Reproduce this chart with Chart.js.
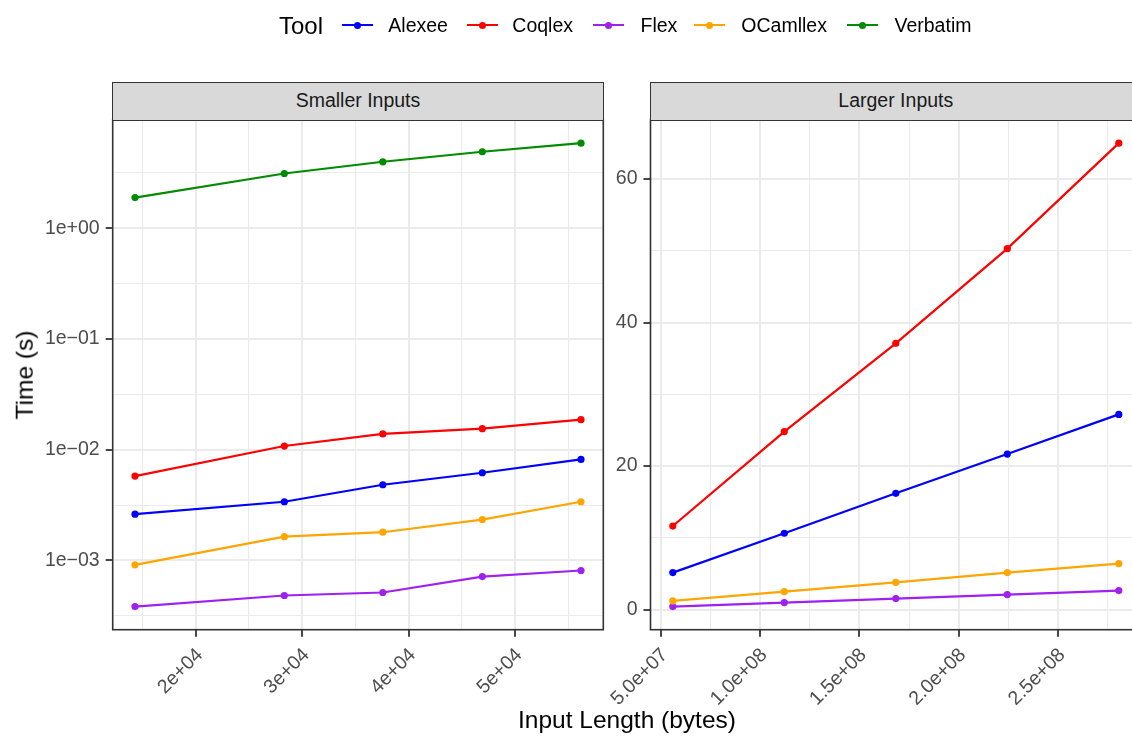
<!DOCTYPE html>
<html>
<head>
<meta charset="utf-8">
<title>Lexer running time by input length</title>
<script src="https://cdn.jsdelivr.net/npm/chart.js@4.4.1/dist/chart.umd.min.js"></script>
<style>
  html, body { margin: 0; padding: 0; background: #ffffff; }
  #stage {
    position: relative; width: 1132px; height: 736px; overflow: hidden;
    font-family: "Liberation Sans", Arial, Helvetica, sans-serif;
  }
  #stage canvas { position: absolute; top: 0; }
  .strip {
    position: absolute; top: 81.5px; height: 39.3px; width: 492.2px;
    box-sizing: border-box; background: #d9d9d9; border: 1.6px solid #333333;
    color: #1a1a1a; font-size: 19.5px; line-height: 1;
    display: flex; align-items: center; justify-content: center;
  }
  .legend-title { position: absolute; left: 279px; top: 13.5px; font-size: 24px; line-height: 1; color: #000; }
  .key { position: absolute; top: 24px; width: 31px; height: 2.2px; }
  .key i { position: absolute; left: 12px; top: -2.4px; width: 7px; height: 7px; border-radius: 50%; background: inherit; }
  .legend-label { position: absolute; top: 16.2px; font-size: 19.5px; line-height: 1; color: #000; white-space: nowrap; }
  .axis-title { position: absolute; font-size: 24.5px; line-height: 1; color: #000; white-space: nowrap; }
</style>
</head>
<body>
<div id="stage">
  <canvas id="smallPanel" width="620" height="736" style="left:0;width:620px;height:736px"></canvas>
  <canvas id="largePanel" width="590" height="736" style="left:560px;width:590px;height:736px"></canvas>

  <div class="strip" style="left:111.9px">Smaller Inputs</div>
  <div class="strip" style="left:649.7px">Larger Inputs</div>

  <div id="legend"></div>

  <div class="axis-title" style="left:24.5px;top:375px;transform:translate(-50%,-50%) rotate(-90deg)">Time (s)</div>
  <div class="axis-title" style="left:0;width:1254px;top:708px;text-align:center">Input Length (bytes)</div>
</div>

<script>
// ---- data ----------------------------------------------------------------
const tools = ['Alexee', 'Coqlex', 'Flex', 'OCamllex', 'Verbatim'];
const toolColors = ['#0000ff', '#ff0000', '#a020f0', '#ffa500', '#008b00'];

// Smaller inputs: size in bytes, time in seconds
const smallSizes    = [14288, 28315, 37566, 46910, 56180];
const smallAlexee   = [0.00262, 0.00339, 0.00483, 0.0062, 0.00817];
const smallCoqlex   = [0.00578, 0.0108, 0.0139, 0.0155, 0.0187];
const smallFlex     = [0.000384, 0.000483, 0.000514, 0.000716, 0.000812];
const smallOCamllex = [0.000914, 0.00164, 0.0018, 0.00234, 0.00339];
const smallVerbatim = [1.89, 3.12, 3.98, 4.9, 5.86];

// Larger inputs: size in bytes, time in seconds (no Verbatim runs)
const largeSizes    = [5.61e7, 1.122e8, 1.683e8, 2.244e8, 2.805e8];
const largeAlexee   = [5.15, 10.63, 16.2, 21.67, 27.2];
const largeCoqlex   = [11.64, 24.8, 37.1, 50.3, 65.0];
const largeFlex     = [0.42, 0.97, 1.53, 2.09, 2.65];
const largeOCamllex = [1.2, 2.5, 3.8, 5.15, 6.4];

// Axis breaks and their labels
const smallXBreaks = [20000, 30000, 40000, 50000];
const smallXLabels = ['2e+04', '3e+04', '4e+04', '5e+04'];
const smallYBreaks = [1e-3, 1e-2, 1e-1, 1];
const smallYLabels = ['1e\u221203', '1e\u221202', '1e\u221201', '1e+00'];
const largeXBreaks = [5e7, 1e8, 1.5e8, 2e8, 2.5e8];
const largeXLabels = ['5.0e+07', '1.0e+08', '1.5e+08', '2.0e+08', '2.5e+08'];
const largeYBreaks = [0, 20, 40, 60];
const largeYLabels = ['0', '20', '40', '60'];

// ---- helpers -------------------------------------------------------------
const FONT = '"Liberation Sans", Arial, Helvetica, sans-serif';

// 5% padding on each side of the data range (in log space for log axes)
function expandRange(values, log) {
  const v = log ? values.map(Math.log10) : values;
  const lo = Math.min(...v), hi = Math.max(...v), pad = (hi - lo) * 0.05;
  return log ? [10 ** (lo - pad), 10 ** (hi + pad)] : [lo - pad, hi + pad];
}

// Major breaks with labels plus unlabeled minor breaks half way between
function buildBreaks(majors, labels, range, log) {
  const t = log ? majors.map(Math.log10) : majors;
  const step = t[1] - t[0];
  const out = [];
  for (let k = 0; k <= (t.length + 1) * 2; k++) {
    const tv = t[0] - step + k * step / 2;
    const value = log ? 10 ** tv : tv;
    if (value < range[0] || value > range[1]) continue;
    let lbl = '';
    if (k % 2 === 0) {
      const j = k / 2 - 1;
      if (j >= 0 && j < labels.length) lbl = labels[j];
    }
    out.push({ value, lbl });
  }
  return out;
}

const panelFrame = {
  id: 'panelFrame',
  afterDatasetsDraw(chart) {
    const { ctx, chartArea: a } = chart;
    ctx.save();
    ctx.strokeStyle = '#333333';
    ctx.lineWidth = 1.6;
    ctx.strokeRect(a.left, a.top, a.right - a.left, a.bottom - a.top);
    ctx.restore();
  }
};

function axisOptions(breaks, range, type, fit, extraTicks) {
  return {
    type, min: range[0], max: range[1], bounds: 'data',
    afterBuildTicks: s => { s.ticks = breaks.map(b => ({ value: b.value, lbl: b.lbl })); },
    afterFit: fit,
    ticks: Object.assign({
      autoSkip: false, color: '#4d4d4d',
      font: { family: FONT, size: 19.5 },
      callback: (v, i, ticks) => ticks[i].lbl
    }, extraTicks),
    grid: {
      color: '#ebebeb',
      lineWidth: c => (c.tick && c.tick.lbl ? 2 : 1.1),
      drawTicks: true, tickLength: 7, tickWidth: 1.8,
      tickColor: c => (c.tick && c.tick.lbl ? '#333333' : 'rgba(0,0,0,0)')
    },
    border: { display: false }
  };
}

function makePanel(canvasId, sizes, series, xB, xL, yB, yL, logY, geom) {
  const allY = series.flatMap(s => s.values);
  const xRange = expandRange(sizes, false);
  const yRange = expandRange(allY, logY);
  const datasets = series.map(s => {
    const idx = tools.indexOf(s.name);
    return {
      label: s.name,
      data: sizes.map((x, j) => ({ x, y: s.values[j] })),
      borderColor: toolColors[idx],
      backgroundColor: toolColors[idx],
      pointBackgroundColor: toolColors[idx],
      borderWidth: 2.2, tension: 0,
      pointRadius: 3.6, pointHoverRadius: 3.6, pointBorderWidth: 0,
      order: tools.length - idx
    };
  });
  return new Chart(document.getElementById(canvasId), {
    type: 'line',
    data: { datasets },
    options: {
      responsive: false, maintainAspectRatio: false, animation: false,
      layout: { autoPadding: false, padding: { left: 0, top: 120, right: geom.right, bottom: 0 } },
      plugins: { legend: { display: false }, tooltip: { enabled: false } },
      events: [],
      scales: {
        x: axisOptions(buildBreaks(xB, xL, xRange, false), xRange, 'linear',
          s => { s.height = geom.xAxisH; },
          { minRotation: 45, maxRotation: 45, labelOffset: 4, padding: 7 }),
        y: axisOptions(buildBreaks(yB, yL, yRange, logY), yRange, logY ? 'logarithmic' : 'linear',
          s => { s.width = geom.yAxisW; },
          { padding: 6 })
      }
    },
    plugins: [panelFrame]
  });
}

makePanel('smallPanel', smallSizes, [
  { name: 'Alexee', values: smallAlexee },
  { name: 'Coqlex', values: smallCoqlex },
  { name: 'Flex', values: smallFlex },
  { name: 'OCamllex', values: smallOCamllex },
  { name: 'Verbatim', values: smallVerbatim }
], smallXBreaks, smallXLabels, smallYBreaks, smallYLabels, true,
  { yAxisW: 112.7, right: 16.7, xAxisH: 106.3 });

makePanel('largePanel', largeSizes, [
  { name: 'Alexee', values: largeAlexee },
  { name: 'Coqlex', values: largeCoqlex },
  { name: 'Flex', values: largeFlex },
  { name: 'OCamllex', values: largeOCamllex }
], largeXBreaks, largeXLabels, largeYBreaks, largeYLabels, false,
  { yAxisW: 90.5, right: 8.9, xAxisH: 106.3 });

// ---- legend --------------------------------------------------------------
const legendKeyX = [341.7, 466.7, 593, 694, 847];
const legendLabelX = [388.3, 512.3, 640.5, 741.3, 894.5];
const legend = document.getElementById('legend');
legend.innerHTML = '<div class="legend-title">Tool</div>' + tools.map((t, i) =>
  `<div class="key" style="left:${legendKeyX[i]}px;background:${toolColors[i]}"><i></i></div>` +
  `<div class="legend-label" style="left:${legendLabelX[i]}px">${t}</div>`).join('');
</script>
</body>
</html>
